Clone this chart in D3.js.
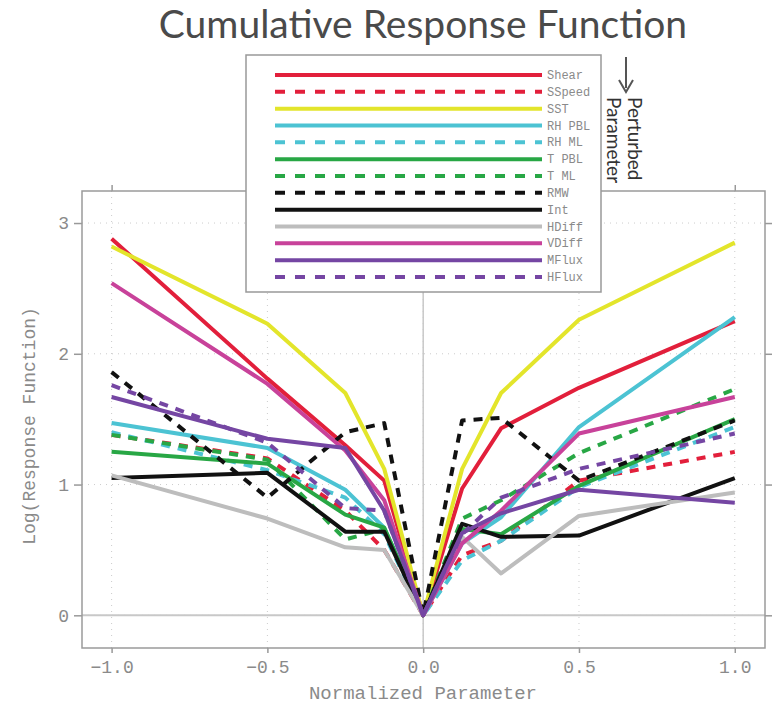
<!DOCTYPE html>
<html>
<head>
<meta charset="utf-8">
<script src="https://cdn.jsdelivr.net/npm/d3@7"></script>
<style>
  body { margin: 0; background: #fff; }
  svg text { font-family: "Liberation Mono", "DejaVu Sans Mono", monospace; fill: #8a8a8a; }
</style>
</head>
<body>
<script>
// normalized parameter values (same for every series)
let xVals = [-1, -0.5, -0.25, -0.125, 0, 0.125, 0.25, 0.5, 1];

let names = ["Shear", "SSpeed", "SST", "RH PBL", "RH ML", "T PBL", "T ML", "RMW", "Int", "HDiff", "VDiff", "MFlux", "HFlux"];
let colors = ["#e21f3b", "#e21f3b", "#e3e52b", "#4cc3d3", "#4cc3d3", "#28a745", "#28a745", "#111111", "#111111", "#bdbdbd", "#c8429a", "#7546a3", "#7546a3"];
let dashed = [false, true, false, false, true, false, true, true, false, false, false, false, true];

// log(response function)
let shear  = [2.88, 1.81, 1.30, 1.03, 0, 0.97, 1.43, 1.74, 2.25];
let sspeed = [1.38, 1.20, 0.80, 0.50, 0, 0.46, 0.57, 1.03, 1.25];
let sst    = [2.82, 2.23, 1.70, 1.12, 0, 1.12, 1.70, 2.26, 2.85];
let rhPbl  = [1.47, 1.28, 0.96, 0.67, 0, 0.55, 0.75, 1.44, 2.28];
let rhMl   = [1.40, 1.11, 0.90, 0.62, 0, 0.42, 0.57, 0.98, 1.44];
let tPbl   = [1.25, 1.16, 0.77, 0.67, 0, 0.66, 0.62, 0.99, 1.50];
let tMl    = [1.38, 1.19, 0.58, 0.66, 0, 0.74, 0.88, 1.24, 1.73];
let rmw    = [1.86, 0.90, 1.40, 1.47, 0, 1.49, 1.51, 1.03, 1.49];
let intr   = [1.05, 1.09, 0.64, 0.64, 0, 0.70, 0.60, 0.61, 1.05];
let hDiff  = [1.07, 0.74, 0.52, 0.50, 0, 0.60, 0.32, 0.76, 0.94];
let vDiff  = [2.54, 1.77, 1.26, 0.88, 0, 0.55, 0.80, 1.39, 1.67];
let mFlux  = [1.67, 1.35, 1.28, 0.80, 0, 0.63, 0.78, 0.96, 0.86];
let hFlux  = [1.76, 1.32, 0.82, 0.80, 0, 0.62, 0.90, 1.12, 1.39];

let values = [shear, sspeed, sst, rhPbl, rhMl, tPbl, tMl, rmw, intr, hDiff, vDiff, mFlux, hFlux];

let xTicks = [-1, -0.5, 0, 0.5, 1];
let yTicks = [0, 1, 2, 3];

let series = names.map(function(n, i) {
	return {
		name: n,
		color: colors[i],
		dashed: dashed[i],
		points: xVals.map(function(x, j) { return {x: x, y: values[i][j]}; })
	};
});

// Set the dimensions
let margin = {top: 191, right: 7, bottom: 56, left: 82},
	width = 772 - margin.left - margin.right,
	height = 704 - margin.top - margin.bottom;

let xScale = d3.scaleLinear().domain([-1.095, 1.097]).range([0, width]),
	yScale = d3.scaleLinear().domain([-0.25, 3.245]).range([height, 0]);

let svg = d3.select("body")
			.append("svg")
			.attr("width", 772)
			.attr("height", 704);

// title
svg.append("text")
	.attr("x", 423)
	.attr("y", 38)
	.attr("text-anchor", "middle")
	.style("font-family", "Lato, 'Open Sans', sans-serif")
	.style("font-size", "39px")
	.style("fill", "#4a4a4a")
	.text("Cumulative Response Function");

let artboard = svg.append("g")
				  .attr("transform", "translate(" + margin.left + "," + margin.top + ")");

// dotted grid
artboard.selectAll(".gx").data(xTicks).enter().append("line")
	.attr("x1", d => xScale(d)).attr("x2", d => xScale(d))
	.attr("y1", 0).attr("y2", height)
	.style("stroke", "#cccccc").style("stroke-dasharray", "1,5");
artboard.selectAll(".gy").data(yTicks).enter().append("line")
	.attr("x1", 0).attr("x2", width)
	.attr("y1", d => yScale(d)).attr("y2", d => yScale(d))
	.style("stroke", "#cccccc").style("stroke-dasharray", "1,5");

// zero lines
artboard.append("line")
	.attr("x1", 0).attr("x2", width)
	.attr("y1", yScale(0)).attr("y2", yScale(0))
	.style("stroke", "#c8c8c8").style("stroke-width", 2);
artboard.append("line")
	.attr("x1", xScale(0)).attr("x2", xScale(0))
	.attr("y1", 0).attr("y2", height)
	.style("stroke", "#c8c8c8").style("stroke-width", 1.5);

// axes
let xAxis = d3.axisBottom(xScale).tickValues(xTicks).tickSize(5).tickPadding(7).tickFormat(d3.format(".1f")),
	xAxisTop = d3.axisTop(xScale).tickValues(xTicks).tickSize(6).tickFormat(""),
	yAxis = d3.axisLeft(yScale).tickValues(yTicks).tickSize(8).tickPadding(5).tickFormat(d3.format("d")),
	yAxisRight = d3.axisRight(yScale).tickValues(yTicks).tickSize(7).tickFormat("");

function styleAxis(g) {
	g.select(".domain").remove();
	g.selectAll(".tick line").style("stroke", "#999").style("stroke-width", 1.5);
	g.selectAll(".tick text").style("font-size", "18px").style("fill", "#8a8a8a")
		.style("font-family", "'Liberation Mono', monospace");
}

artboard.append("g").attr("transform", "translate(0," + height + ")").call(xAxis).call(styleAxis);
artboard.append("g").call(xAxisTop).call(styleAxis);
artboard.append("g").call(yAxis).call(styleAxis);
artboard.append("g").attr("transform", "translate(" + width + ",0)").call(yAxisRight).call(styleAxis);

// frame
artboard.append("rect")
	.attr("width", width).attr("height", height)
	.style("fill", "none").style("stroke", "#9a9a9a").style("stroke-width", 1.5);

// axis labels
svg.append("text")
	.attr("x", 423).attr("y", 699)
	.attr("text-anchor", "middle")
	.style("font-size", "19px")
	.text("Normalized Parameter");
svg.append("text")
	.attr("transform", "translate(35,426) rotate(-90)")
	.attr("text-anchor", "middle")
	.style("font-size", "18px")
	.text("Log(Response Function)");

// series lines
let line = d3.line()
	.x(d => xScale(d.x))
	.y(d => yScale(d.y));

artboard.selectAll(".series").data(series).enter().append("path")
	.attr("d", d => line(d.points))
	.style("fill", "none")
	.style("stroke", d => d.color)
	.style("stroke-width", 4)
	.style("stroke-linejoin", "round")
	.style("stroke-dasharray", d => d.dashed ? "9,8" : null);

// legend
let legend = svg.append("g").attr("transform", "translate(246,55)");
legend.append("rect")
	.attr("width", 355).attr("height", 237)
	.style("fill", "#fff").style("stroke", "#999").style("stroke-width", 1.5);

let rowY = d3.scalePoint().domain(names).range([20, 222]);

let rows = legend.selectAll(".row").data(series).enter().append("g")
	.attr("transform", d => "translate(0," + rowY(d.name) + ")");
rows.append("line")
	.attr("x1", 29).attr("x2", 296)
	.style("stroke", d => d.color)
	.style("stroke-width", 4)
	.style("stroke-dasharray", d => d.dashed ? "10,10" : null);
rows.append("text")
	.attr("x", 301).attr("y", 4)
	.style("font-size", "12px")
	.style("fill", "#8a8a8a")
	.text(d => d.name);

// perturbed parameter note
svg.append("line")
	.attr("x1", 626).attr("x2", 626).attr("y1", 57).attr("y2", 88)
	.style("stroke", "#555").style("stroke-width", 2);
svg.append("path")
	.attr("d", "M619,80 L626,92 L633,80")
	.style("fill", "none").style("stroke", "#555").style("stroke-width", 2);
let note = svg.append("text")
	.attr("transform", "translate(628,97) rotate(90)")
	.style("font-family", "Lato, 'Open Sans', sans-serif")
	.style("font-size", "19px")
	.style("fill", "#333");
note.append("tspan").attr("x", 0).attr("y", 0).text("Perturbed");
note.append("tspan").attr("x", 0).attr("y", 21).text("Parameter");
</script>
</body>
</html>
